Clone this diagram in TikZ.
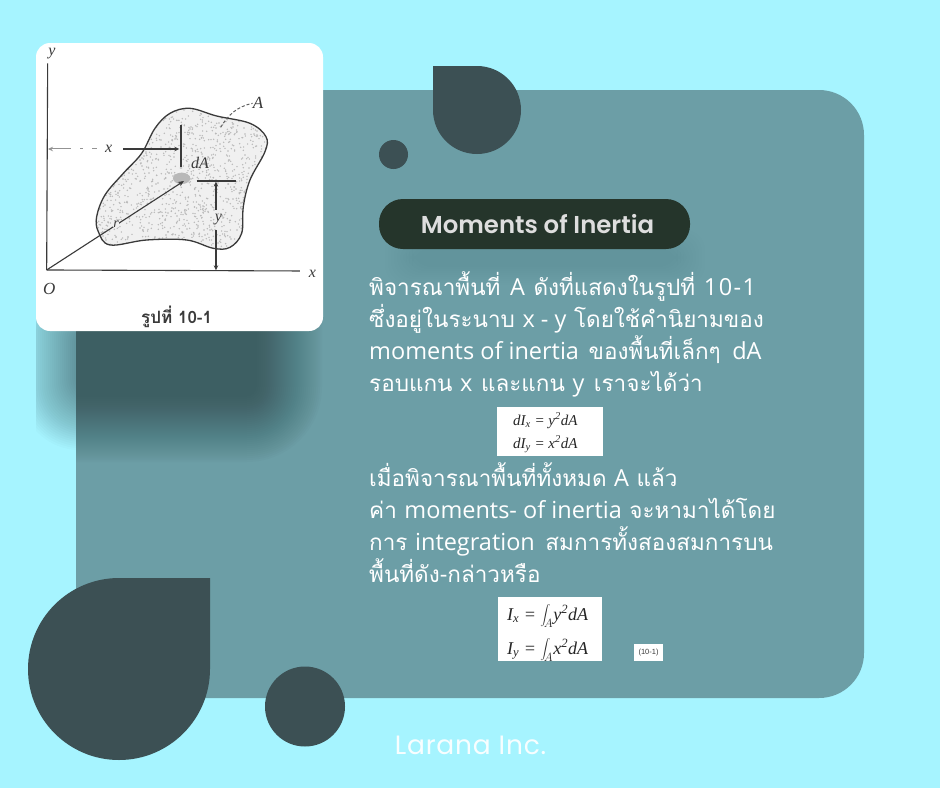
\documentclass[tikz,border=0pt]{standalone}
\usepackage{fontspec}
\usetikzlibrary{arrows.meta,calc}
\setmainfont{Liberation Serif}
\newfontfamily\thaifont[Script=Thai]{Loma}
\newfontfamily\latfont{Open Sans}
\newfontfamily\latwide[LetterSpace=6]{Open Sans}
\newfontfamily\popfont[LetterSpace=3]{Poppins}
\newfontfamily\popsemi{Poppins SemiBold}
\newfontfamily\figsans{Liberation Sans}
\newcommand{\lat}[1]{{\latfont\fontsize{23.5}{26}\selectfont #1}}
\newcommand{\latw}[1]{{\latwide\fontsize{23.5}{26}\selectfont #1}}
\definecolor{bgcyan}{HTML}{A6F4FF}
\definecolor{panelc}{HTML}{6C9EA6}
\definecolor{darkc}{HTML}{3C5054}
\definecolor{pillc}{HTML}{25352B}
\definecolor{shadowc}{HTML}{1F3336}
\definecolor{inkc}{HTML}{3A3A3A}
\tikzset{
  body/.style={anchor=base west,inner sep=0pt,text=white,font=\thaifont\fontsize{22.5}{26}\selectfont},
  blobshape/.style={fill=darkc},
  figlab/.style={inner sep=0pt,text=inkc,font=\itshape\fontsize{16}{18}\selectfont},
  figline/.style={draw=inkc,line width=1.1pt},
  figfaint/.style={draw=inkc!55,line width=1pt},
  eqlab/.style={anchor=base west,inner sep=0pt,text=black!85,font=\itshape\fontsize{15}{17}\selectfont},
  whitebox/.style={fill=white,draw=none},
}
\begin{document}
\begin{tikzpicture}[x=1pt,y=-1pt]
\useasboundingbox (0,0) rectangle (940,788);
\fill[bgcyan] (0,0) rectangle (940,788);
% shadow on the strip left of the panel
\begin{scope}
\clip (36,300) rectangle (76,470);
\foreach \i in {0,...,29}{
  \pgfmathsetmacro{\rr}{max(60-1.5*\i,8)}
  \fill[shadowc,fill opacity=.0187,rounded corners=\rr pt]
    ({20+2*\i},{270+2*\i}) rectangle ({200-2*\i},{450-2*\i});
}
\end{scope}
% panel
\fill[panelc,rounded corners=45pt] (76,90) rectangle (864,698);
% shadow on the panel
\begin{scope}
\clip (76,300) rectangle (400,480);
\foreach \i in {0,...,33}{
  \pgfmathsetmacro{\rr}{max(75-2*\i,8)}
  \fill[shadowc,fill opacity=.021,rounded corners=\rr pt]
    ({-100+2*\i},{200+2*\i}) rectangle ({322-2*\i},{462-2*\i});
}
\end{scope}
% faint shadow of the pill
\foreach \i in {0,...,9}{
  \fill[shadowc,fill opacity=.006,rounded corners=20pt]
    ({385+3*\i},{230+2*\i}) rectangle ({705-3*\i},{285-2*\i});
}
% decorations
\fill[blobshape] (433,66) -- (477,66) arc[start angle=-90,end angle=180,radius=44] -- cycle;
\fill[blobshape] (210,578) -- (210,669) arc[start angle=0,end angle=270,radius=91] -- cycle;
\fill[blobshape] (393.5,154.5) circle[radius=14.5];
\fill[blobshape] (305,706.5) circle[radius=40];
% picture card
\fill[white,rounded corners=14pt] (36,43) rectangle (323,331);
\begin{scope}[shift={(30,40)},x=0.3333pt,y=-0.3333pt]
  \def\blobpath{plot[smooth cycle,tension=.6] coordinates {(205,575) (200,530) (225,465) (280,400) (335,340) (375,265) (420,220) (480,205) (560,228) (660,250) (708,290) (705,335) (660,420) (640,500) (635,580) (600,622) (550,625) (470,600) (350,600) (240,615)}}
  \begin{scope}
    \clip \blobpath;
    \fill[black!6] (190,190) rectangle (720,640);
    \pgfmathsetseed{1017}
    \foreach \k in {1,...,1500}{
      \pgfmathsetmacro{\px}{random(195,715)}
      \pgfmathsetmacro{\py}{random(200,630)}
      \fill[black!28] (\px,\py) circle[radius=2.4];
    }
    \fill[black!28] (455,415) ellipse[x radius=26,y radius=17];
  \end{scope}
  \draw[figline,line width=1.3pt] \blobpath;
  \coordinate (origin) at (50,690);
  \coordinate (ytop) at (53,70);
  \coordinate (xend) at (810,693);
  \coordinate (dacent) at (462,423);
  \draw[figline] (origin) -- (ytop);
  \draw[figline] (origin) -- (xend);
  \draw[figline,-{Stealth[length=6pt,width=5pt]}] (origin) -- (dacent);
  \node[fill=black!6,inner sep=1pt,figlab,font=\itshape\fontsize{14}{15}\selectfont] (rlab) at (258,552) {r};
  \node[figlab] (ylab) at (66,40) {y};
  \node[figlab] (xlab) at (847,702) {x};
  \node[figlab,font=\itshape\fontsize{17}{18}\selectfont] (olab) at (58,747) {O};
  \node[figlab,font=\itshape\fontsize{17}{18}\selectfont] (alab) at (684,190) {A};
  \node[figlab] (dalab) at (510,370) {dA};
  \node[figlab] (xdim) at (236,328) {x};
  \node[figlab] (ydim) at (565,538) {y};
  \coordinate (aleadS) at (572,262);
  \draw[draw=inkc!80,line width=1pt,densely dashed] (aleadS) .. controls (595,225) and (620,200) .. (alab.west);
  \coordinate (xleft) at (54,327);
  \coordinate (xdot) at (200,327);
  \coordinate (xright) at (448,327);
  \coordinate (xmid) at (280,327);
  \draw[figfaint,dash pattern=on 20pt off 9pt on 3pt off 9pt,{Stealth[length=5pt,width=4.5pt]}-] (xleft) -- (xdot);
  \draw[figline,-{Stealth[length=5pt,width=4.5pt]}] (xmid) -- (xright);
  \coordinate (ttop) at (453,255);
  \coordinate (tbot) at (453,380);
  \draw[figline] (ttop) -- (tbot);
  \coordinate (hl) at (500,423);
  \coordinate (hr) at (617,423);
  \draw[figline] (hl) -- (hr);
  \coordinate (vt) at (558,425);
  \coordinate (vb) at (558,691);
  \coordinate (vmt) at (558,510);
  \coordinate (vmb) at (558,570);
  \draw[figline,{Stealth[length=5pt,width=4.5pt]}-] (vt) -- (vmt);
  \draw[figline,-{Stealth[length=5pt,width=4.5pt]}] (vmb) -- (vb);
  \node[inner sep=0pt,text=inkc,font=\thaifont\bfseries\fontsize{17}{19}\selectfont] (cap) at (440,830) {รูปที่ 10-1};
\end{scope}
% pill
\node[fill=pillc,minimum width=311pt,minimum height=50pt,rounded corners=24pt,inner sep=0pt,anchor=center,text=black!13,font=\popsemi\fontsize{24.4}{26}\selectfont] (title) at (534.5,224) {\hspace*{6pt}Moments of Inertia};
% body text
\node[body] (l1) at (369,295) {พิจารณาพื้นที่ \hspace{2pt}\lat{A} \hspace{1pt}ดังที่แสดงในรูปที่ \hspace{1pt}\latw{10-1}};
\node[body] (l2) at (369,327) {ซึ่งอยู่ในระนาบ \lat{x - y} โดยใช้คำนิยามของ};
\node[body] (l3) at (369,359) {\lat{moments of inertia} \hspace{2pt}ของพื้นที่เล็กๆ \hspace{4pt}\lat{dA}};
\node[body] (l4) at (369,391) {รอบแกน \lat{x} \hspace{1pt}และแกน \lat{y} \hspace{2pt}เราจะได้ว่า};
\node[body] (l5) at (369,486) {เมื่อพิจารณาพื้นที่ทั้งหมด \lat{A} แล้ว};
\node[body] (l6) at (369,518) {ค่า \lat{moments- of inertia} จะหามาได้โดย};
\node[body] (l7) at (369,550) {การ \lat{integration} \hspace{3pt}สมการทั้งสองสมการบน};
\node[body] (l8) at (369,582) {พื้นที่ดัง\lat{-}กล่าวหรือ};
% equations
\fill[whitebox] (497,407) rectangle (603,456);
\node[eqlab] (e1) at (513,425) {dI\textsubscript{x} = y\textsuperscript{2}dA};
\node[eqlab] (e2) at (513,448) {dI\textsubscript{y} = x\textsuperscript{2}dA};
\fill[whitebox] (498,597) rectangle (602,661);
\begin{scope}
  \clip (498,597) rectangle (602,661);
  \node[eqlab,font=\itshape\fontsize{18}{20}\selectfont] (e3) at (507,620) {I\textsubscript{x} = $\displaystyle\int_{\!A}$y\textsuperscript{2}dA};
  \node[eqlab,font=\itshape\fontsize{18}{20}\selectfont] (e4) at (507,654) {I\textsubscript{y} = $\displaystyle\int_{\!A}$x\textsuperscript{2}dA};
\end{scope}
\fill[whitebox] (634,644) rectangle (663,661);
\node[inner sep=0pt,text=inkc,font=\figsans\fontsize{7.5}{9}\selectfont] (eqno) at (648.5,653) {(10-1)};
% footer
\node[inner sep=0pt,text=white!92!bgcyan,font=\popfont\fontsize{26.5}{28}\selectfont] (foot) at (470.5,745) {Larana Inc.};
\end{tikzpicture}
\end{document}
